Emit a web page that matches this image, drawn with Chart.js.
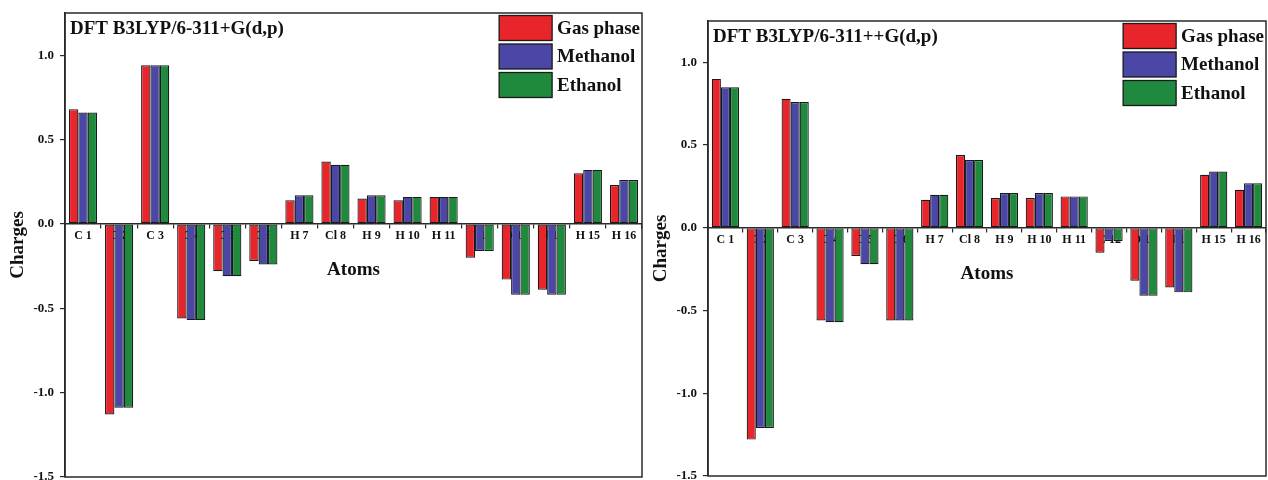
<!DOCTYPE html>
<html>
<head>
<meta charset="utf-8">
<title>Atomic charges</title>
<script src="https://cdn.jsdelivr.net/npm/chart.js@4.4.1/dist/chart.umd.min.js"></script>
<style>
  html, body { margin: 0; padding: 0; background: #fff; }
  #wrap { position: relative; width: 1268px; height: 480px; overflow: hidden; }
  .panel { position: absolute; top: 0; }
  #left { left: 0; }
  #right { left: 643px; }
</style>
</head>
<body>
<div id="wrap">
  <div class="panel" id="left"><canvas id="chartLeft" width="643" height="480"></canvas></div>
  <div class="panel" id="right"><canvas id="chartRight" width="625" height="480"></canvas></div>
</div>
<script>
"use strict";

const atoms = ["C 1", "C 2", "C 3", "C 4", "C 5", "C 6", "H 7", "Cl 8", "H 9", "H 10", "H 11", "C 12", "O 13", "N 14", "H 15", "H 16"];
const seriesNames = ["Gas phase", "Methanol", "Ethanol"];
const yTicks = [-1.5, -1.0, -0.5, 0.0, 0.5, 1.0];

// DFT B3LYP/6-311+G(d,p)
const gasPlus = [0.68, -1.13, 0.94, -0.56, -0.28, -0.22, 0.14, 0.37, 0.15, 0.14, 0.16, -0.20, -0.33, -0.39, 0.30, 0.23];
const methanolPlus = [0.66, -1.09, 0.94, -0.57, -0.31, -0.24, 0.17, 0.35, 0.17, 0.16, 0.16, -0.16, -0.42, -0.42, 0.32, 0.26];
const ethanolPlus = [0.66, -1.09, 0.94, -0.57, -0.31, -0.24, 0.17, 0.35, 0.17, 0.16, 0.16, -0.16, -0.42, -0.42, 0.32, 0.26];

// DFT B3LYP/6-311++G(d,p)
const gasPlusPlus = [0.90, -1.28, 0.78, -0.56, -0.17, -0.56, 0.17, 0.44, 0.18, 0.18, 0.19, -0.15, -0.32, -0.36, 0.32, 0.23];
const methanolPlusPlus = [0.85, -1.21, 0.76, -0.57, -0.22, -0.56, 0.20, 0.41, 0.21, 0.21, 0.19, -0.08, -0.41, -0.39, 0.34, 0.27];
const ethanolPlusPlus = [0.85, -1.21, 0.76, -0.57, -0.22, -0.56, 0.20, 0.41, 0.21, 0.21, 0.19, -0.08, -0.41, -0.39, 0.34, 0.27];

const colors = ["#e8252b", "#4a47a6", "#1f8a3e"];
const serif = "'Liberation Serif', 'Times New Roman', serif";
const ink = "#2a2a2a";

// frame around the plot, method label and legend inside the plot
const framePlugin = {
  id: "frame",
  afterDraw(chart, args, opts) {
    const { ctx, chartArea: a } = chart;
    ctx.save();
    ctx.strokeStyle = ink;
    ctx.lineWidth = 1.5;
    ctx.strokeRect(a.left, a.top, a.right - a.left, a.bottom - a.top);

    ctx.fillStyle = "#111";
    ctx.font = "bold 19px " + serif;
    ctx.textBaseline = "alphabetic";
    ctx.textAlign = "left";
    ctx.fillText(opts.label, a.left + 5, a.top + 21);

    // legend
    const sets = chart.data.datasets;
    let maxW = 0;
    sets.forEach(ds => { maxW = Math.max(maxW, ctx.measureText(ds.label).width); });
    const textX = a.right - 2 - maxW;
    const boxW = 53, boxH = 25, gap = 3.5;
    const boxX = textX - 5 - boxW;
    sets.forEach((ds, i) => {
      const y = a.top + 2.5 + i * (boxH + gap);
      ctx.fillStyle = ds.backgroundColor;
      ctx.fillRect(boxX, y, boxW, boxH);
      ctx.strokeStyle = "#1a1a1a";
      ctx.lineWidth = 1.3;
      ctx.strokeRect(boxX, y, boxW, boxH);
      ctx.fillStyle = "#111";
      ctx.textBaseline = "middle";
      ctx.fillText(ds.label, textX, y + boxH / 2 + 1);
    });
    ctx.restore();
  }
};

function makeChart(canvasId, label, values, pad) {
  const ctx = document.querySelector(canvasId).getContext("2d");
  return new Chart(ctx, {
    type: "bar",
    data: {
      labels: atoms,
      datasets: values.map((v, i) => ({
        label: seriesNames[i],
        data: v,
        backgroundColor: colors[i],
        borderColor: "#1a1a1a",
        borderWidth: 1.2,
        borderSkipped: false,
        categoryPercentage: 0.78,
        barPercentage: 1.0
      }))
    },
    options: {
      responsive: false,
      animation: false,
      devicePixelRatio: 1,
      layout: { padding: pad },
      plugins: {
        legend: { display: false },
        tooltip: { enabled: false },
        frame: { label: label }
      },
      scales: {
        x: {
          position: { y: 0 },
          z: 1,
          afterFit: scale => { scale.height = 58; },
          grid: { drawOnChartArea: false, drawTicks: true, tickLength: 4, color: ink, lineWidth: 1.2 },
          border: { display: true, color: ink, width: 1.5 },
          ticks: {
            autoSkip: false,
            maxRotation: 0,
            padding: 1,
            color: "#111",
            font: { family: serif, size: 12, weight: "bold" }
          },
          title: {
            display: true,
            text: "Atoms",
            color: "#111",
            padding: 0,
            font: { family: serif, size: 19, weight: "bold" }
          }
        },
        y: {
          min: -1.5,
          max: 1.25,
          afterFit: scale => {
            scale.width = 65;
            scale.paddingTop = 0;
            scale.paddingBottom = 0;
          },
          afterBuildTicks: scale => { scale.ticks = yTicks.map(v => ({ value: v })); },
          grid: { drawOnChartArea: false, drawTicks: true, tickLength: 5, color: ink, lineWidth: 1.2 },
          border: { display: true, color: ink, width: 1.5 },
          ticks: {
            padding: 6,
            color: "#111",
            font: { family: serif, size: 13, weight: "bold" },
            callback: v => v.toFixed(1)
          },
          title: {
            display: true,
            text: "Charges",
            color: "#111",
            padding: { top: 7, bottom: 0 },
            font: { family: serif, size: 19, weight: "bold" }
          }
        }
      }
    },
    plugins: [framePlugin]
  });
}

document.addEventListener("DOMContentLoaded", () => {
  makeChart("#chartLeft", "DFT B3LYP/6-311+G(d,p)",
    [gasPlus, methanolPlus, ethanolPlus],
    { left: 0, right: 1, top: 13, bottom: 3 });
  makeChart("#chartRight", "DFT B3LYP/6-311++G(d,p)",
    [gasPlusPlus, methanolPlusPlus, ethanolPlusPlus],
    { left: 0, right: 2, top: 21, bottom: 4 });
});
</script>
</body>
</html>
